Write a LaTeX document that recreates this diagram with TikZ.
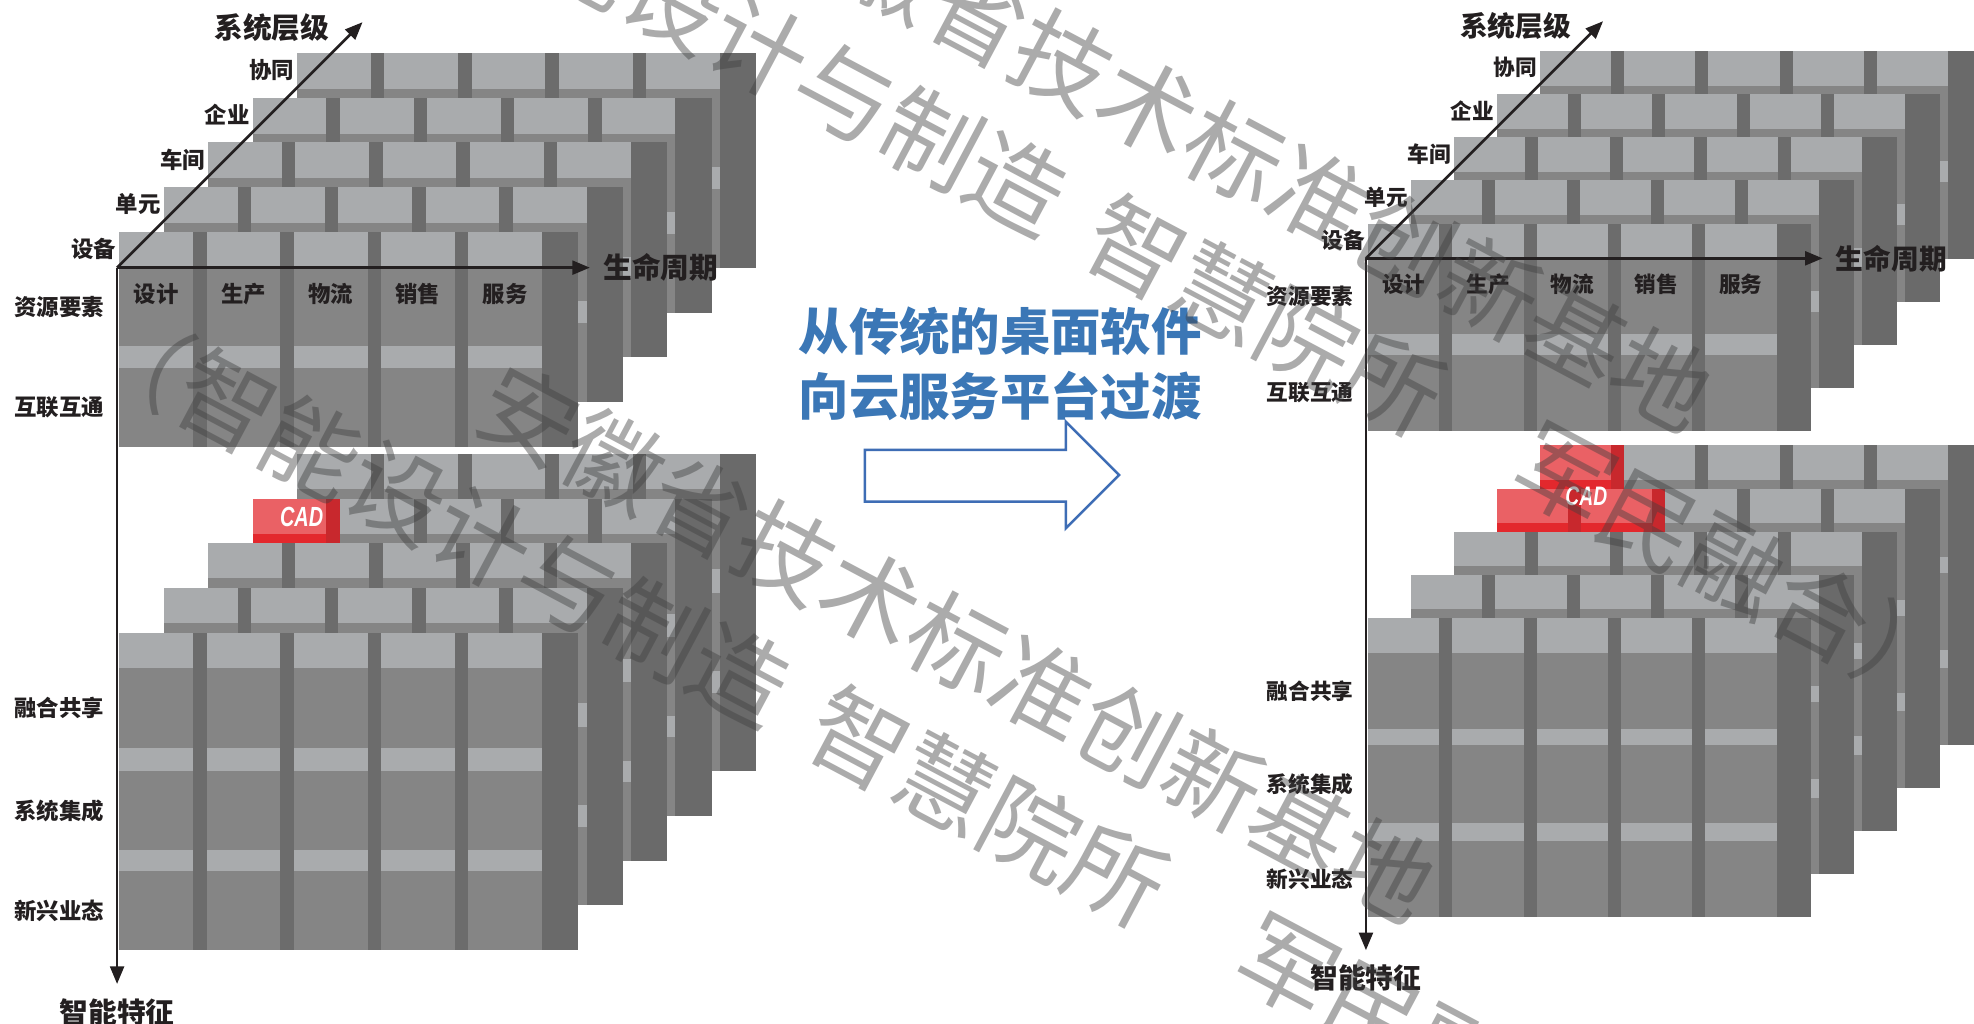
\documentclass[tikz,border=0pt]{standalone}
\usepackage{fontspec}
\setmainfont{Liberation Sans}
\newfontfamily\cjk{Noto Sans CJK SC}
\usetikzlibrary{arrows.meta}

\definecolor{cLite}{HTML}{A9ABAD}
\definecolor{cBody}{HTML}{858585}
\definecolor{cGap}{HTML}{6C6C6C}
\definecolor{cSide}{HTML}{6A6A6A}
\definecolor{rLite}{HTML}{EA6165}
\definecolor{rBody}{HTML}{E3282D}
\definecolor{rGap}{HTML}{C8282D}
\definecolor{ink}{HTML}{231F20}
\definecolor{blueTxt}{HTML}{3B77B6}
\definecolor{blueLine}{HTML}{3E6DB5}
\definecolor{wmInk}{HTML}{404040}

% brick wall geometry, relative to the axis origin
\def\CL{1.8}    % left edge of the first column
\def\CP{69.3}   % column pitch
\def\CW{58.6}   % column width
\def\CR{337.6}  % right edge of the last column
\def\CS{366.3}  % right edge of the side strip
\def\LDX{35.3}  % layer step to the back
\def\LDY{-35.5}

% one block of bricks: top, bottom, light bands a/b
\newcommand\drawblock[3]{%
  \fill[cBody] (\CL,#1) rectangle (\CR,#2);
  \foreach \a/\b in {#3} {\fill[cLite] (\CL,\a) rectangle (\CR,\b);}
  \foreach \k in {0,...,3} {\fill[cGap] ({\CL+\k*\CP+\CW},#1) rectangle ({\CL+(\k+1)*\CP},#2);}
  \fill[cSide] (\CR,#1) rectangle (\CS,#2);
}
% a red brick: column, top, bottom
\newcommand\redbrick[3]{%
  \fill[rBody] ({\CL+#1*\CP},#2) rectangle ({\CL+#1*\CP+\CW},#3);
  \fill[rLite] ({\CL+#1*\CP},#2) rectangle ({\CL+#1*\CP+\CW},{#2+28.3});
  \fill[rGap] ({\CL+#1*\CP+\CW},#2) rectangle ({\CL+(#1+1)*\CP},#3);
}
% one layer of the cube: index, extra drawing
\newcommand\drawlayer[2]{%
  \begin{scope}[shift={({#1*\LDX},{#1*\LDY})}]
    \drawblock{-28.6}{142.2}{-28.6/0,62.2/79.4}
    \drawblock{\LT}{542}{\LT/\LTb,\LAa/\LAb,\LCa/\LCb}
    #2
  \end{scope}}
% axes and labels of a cube: name prefix
\newcommand\cubetext[1]{%
  \foreach \t [count=\i from 0] in {设计,生产,物流,销售,服务}
    {\node[lab] (#1c\i) at ({\CL+\i*\CP+\CW/2},21) {\t};}
  \foreach \t [count=\i from 0] in {设备,单元,车间,企业,协同}
    {\node[lab,anchor=east] (#1s\i) at ({\CL+\i*\LDX-2},{-15+\i*\LDY}) {\t};}
  \node[lab,anchor=east] (#1r1) at (-10,31) {资源要素};
  \node[lab,anchor=east] (#1r2) at (-10,110.8) {互联互通};
  \node[lab,anchor=east] (#1r3) at (-10,{(\LTb+\LAa)/2}) {融合共享};
  \node[lab,anchor=east] (#1r4) at (-10,{(\LAb+\LCa)/2}) {系统集成};
  \node[lab,anchor=east] (#1r5) at (-10,{(\LCb+542)/2}) {新兴业态};
  \coordinate (#1o) at (0,0);
  \coordinate (#1v) at (0,569);
  \coordinate (#1h) at (375.6,0);
  \coordinate (#1d) at (195,-195);
  \draw[axis] (#1o) -- (#1v);
  \draw[axis] (#1o) -- (#1h);
  \draw[axis] (#1o) -- (#1d);
  \node[ttl] (#1tv) at (0,592) {智能特征};
  \node[ttl,anchor=west] (#1th) at (386,0) {生命周期};
  \node[ttl] (#1td) at (123,-191) {系统层级};
}

\begin{document}
\begin{tikzpicture}[x=0.5pt,y=-0.5pt,
  lab/.style={font=\cjk\bfseries\fontsize{8.9}{10}\selectfont,text=ink,inner sep=0},
  ttl/.style={font=\cjk\bfseries\fontsize{11.4}{12}\selectfont,text=ink,inner sep=0},
  axis/.style={draw=ink,line width=1.1pt,-{Triangle[length=7pt,width=5.5pt]}},
  cadtxt/.style={font=\bfseries\itshape\fontsize{11}{11}\selectfont,text=white,inner sep=0,xscale=0.72},
  bluetxt/.style={font=\cjk\bfseries\fontsize{20}{22}\selectfont,text=blueTxt,inner sep=0,anchor=west},
  wmk/.style={font=\cjk\fontsize{38.5}{40}\selectfont,text=wmInk,text opacity=0.44,inner sep=0,rotate=-28,anchor=west}]
\useasboundingbox (0,0) rectangle (1568,813);
\clip (0,0) rectangle (1568,813);
\fill[white] (0,0) rectangle (1568,813);

% left cube: desktop software
\def\LT{289.9}\def\LTb{317.9}\def\LAa{381.7}\def\LAb{400.1}\def\LCa{462.6}\def\LCb{479.6}
\begin{scope}[shift={(93,212.6)}]
  \drawlayer{4}{}
  \drawlayer{3}{\redbrick{0}{\LT}{542}}
  \drawlayer{2}{}
  \drawlayer{1}{}
  \drawlayer{0}{}
  \node[cadtxt] (Lcad) at (146.6,198.2) {CAD};
  \cubetext{L}
\end{scope}

% right cube: cloud platform
\def\LT{295.9}\def\LTb{324.2}\def\LAa{387.2}\def\LAb{400.4}\def\LCa{464}\def\LCb{479.1}
\begin{scope}[shift={(1085,205.2)},scale=0.966,transform shape]
  \drawlayer{4}{\redbrick{0}{\LT}{542}}
  \drawlayer{3}{\redbrick{0}{\LT}{542}\redbrick{1}{\LT}{542}}
  \drawlayer{2}{}
  \drawlayer{1}{}
  \drawlayer{0}{}
  \node[cadtxt] (Rcad) at (181.2,195.4) {CAD};
  \cubetext{R}
\end{scope}

% transition caption and arrow
\node[bluetxt] (t1) at (634,263.5) {从传统的桌面软件};
\node[bluetxt] (t2) at (634,314.4) {向云服务平台过渡};
\draw[blueLine,line width=1pt,fill=white]
  (687,357.4) -- (846.7,357.4) -- (846.7,335) -- (889,377.3)
  -- (846.7,419.6) -- (846.7,398.5) -- (687,398.5) -- cycle;

% watermark
\node[wmk] (w1b) at (77.4,264.7) {（智能设计与制造\hspace{0.4em}智慧院所　军民融合）};
\node[wmk] (w1a) at (386,312) {安徽省技术标准创新基地};
\node[wmk] (w2b) at (297.4,-125.3) {（智能设计与制造\hspace{0.4em}智慧院所　军民融合）};
\node[wmk] (w2a) at (606,-78) {安徽省技术标准创新基地};
\end{tikzpicture}
\end{document}
